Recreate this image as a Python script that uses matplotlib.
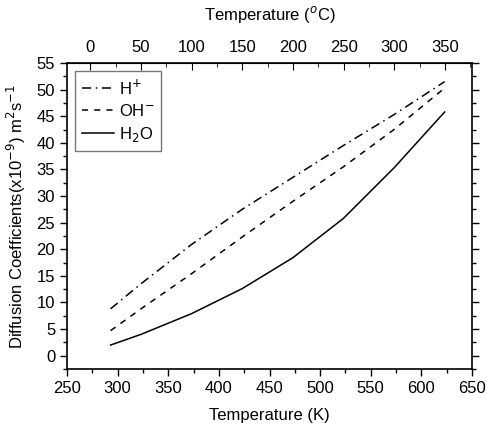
import matplotlib
matplotlib.use("Agg")
import matplotlib.pyplot as plt
from matplotlib.ticker import MultipleLocator, FixedLocator

plt.rcParams['font.family'] = ['Liberation Sans', 'DejaVu Sans']

temp_k = [293, 323, 373, 423, 473, 523, 573, 623]
d_h = [8.8, 13.5, 20.9, 27.5, 33.5, 39.5, 45.3, 51.5]
d_oh = [4.7, 8.8, 15.4, 22.3, 29.0, 35.5, 42.5, 50.3]
d_h2o = [2.0, 4.0, 7.9, 12.6, 18.4, 25.8, 35.3, 45.8]

celsius_ticks = [0, 50, 100, 150, 200, 250, 300, 350]
celsius_minor = [25, 75, 125, 175, 225, 275, 325, 375]

fig = plt.figure(figsize=(4.87, 4.34), dpi=100)
ax = fig.add_axes([67/487, 65/434, 405/487, 306/434])

ax.plot(temp_k, d_h, color='black', lw=1.1, dashes=(6, 3, 1, 3), label='H$^{+}$')
ax.plot(temp_k, d_oh, color='black', lw=1.1, dashes=(4, 4), label='OH$^{-}$')
ax.plot(temp_k, d_h2o, color='black', lw=1.1, label='H$_{2}$O')

ax.set_xlim(250, 650)
ax.set_ylim(-2.5, 55)
ax.xaxis.set_major_locator(MultipleLocator(50))
ax.xaxis.set_minor_locator(MultipleLocator(25))
ax.yaxis.set_major_locator(MultipleLocator(5))
ax.yaxis.set_minor_locator(MultipleLocator(2.5))
ax.tick_params(which='both', direction='out', labelsize=12, right=True, top=False)
ax.tick_params(which='major', length=5, width=1)
ax.tick_params(which='minor', length=3, width=1)
for s in ax.spines.values():
    s.set_linewidth(1.2)

ax.set_xlabel('Temperature (K)', fontsize=12, labelpad=9)
ax.set_ylabel('Diffusion Coefficients(x10$^{-9}$) m$^{2}$s$^{-1}$', fontsize=12, labelpad=6)

top = ax.secondary_xaxis('top', functions=(lambda k: k - 273.15, lambda c: c + 273.15))
top.set_xticks(celsius_ticks)
top.xaxis.set_minor_locator(FixedLocator(celsius_minor))
top.tick_params(which='both', direction='in', labelsize=12, pad=6)
top.tick_params(which='major', length=5)
top.tick_params(which='minor', length=3)
top.set_xlabel('Temperature ($^{o}$C)', fontsize=12, labelpad=14)

leg = ax.legend(loc='upper left', fontsize=12, frameon=True, fancybox=False,
                edgecolor='#555555', handlelength=1.9, borderaxespad=0.5,
                labelspacing=0.35, handletextpad=0.3, borderpad=0.4)
leg.get_frame().set_linewidth(1.0)

fig.savefig('out.png', dpi=100)
